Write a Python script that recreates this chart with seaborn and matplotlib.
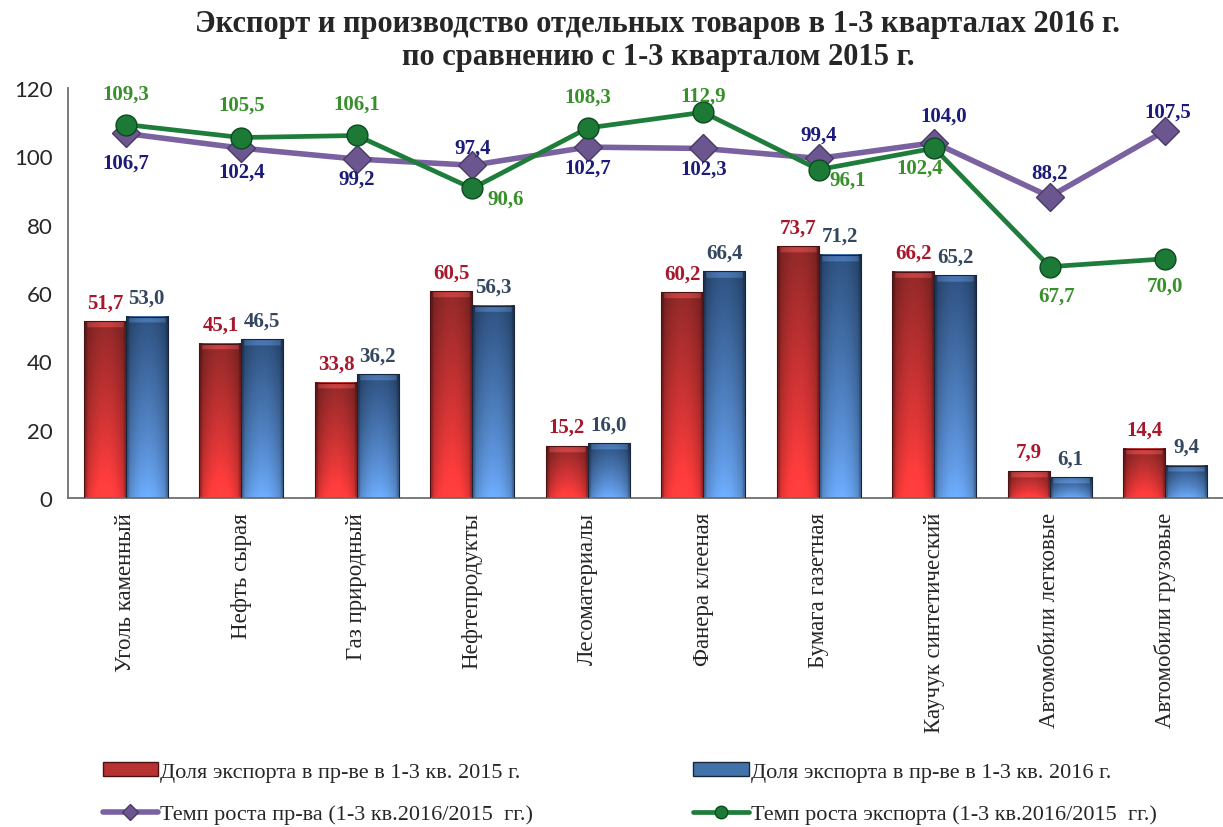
import numpy as np
import pandas as pd
import matplotlib
matplotlib.use("Agg")
import matplotlib.pyplot as plt
import seaborn as sns
from matplotlib.patches import Patch
from matplotlib.lines import Line2D

categories = ["Уголь каменный", "Нефть сырая", "Газ природный", "Нефтепродукты",
              "Лесоматериалы", "Фанера клееная", "Бумага газетная",
              "Каучук синтетический", "Автомобили легковые", "Автомобили грузовые"]
share_2015 = [51.7, 45.1, 33.8, 60.5, 15.2, 60.2, 73.7, 66.2, 7.9, 14.4]
share_2016 = [53.0, 46.5, 36.2, 56.3, 16.0, 66.4, 71.2, 65.2, 6.1, 9.4]
prod_growth = [106.7, 102.4, 99.2, 97.4, 102.7, 102.3, 99.4, 104.0, 88.2, 107.5]
export_growth = [109.3, 105.5, 106.1, 90.6, 108.3, 112.9, 96.1, 102.4, 67.7, 70.0]

series_names = ["Доля экспорта в пр-ве в 1-3 кв. 2015 г.",
                "Доля экспорта в пр-ве в 1-3 кв. 2016 г.",
                "Темп роста пр-ва (1-3 кв.2016/2015  гг.)",
                "Темп роста экспорта (1-3 кв.2016/2015  гг.)"]
title_text = "Экспорт и производство отдельных товаров в 1-3 кварталах 2016 г.\nпо сравнению с 1-3 кварталом 2015 г."

# label offsets (pixels) for line labels
prod_offsets = [(0, -29), (0, -23), (0, -20), (0, 18), (0, -20), (0, -20),
                (0, 24), (9, 27), (0, 24), (2, 19)]
exp_offsets = [(0, 31), (0, 33), (0, 32), (33, -10), (0, 31), (0, 17),
               (29, -10), (-15, -19), (7, -29), (0, -27)]

sns.set_style("white")
plt.rcParams["font.family"] = ["Liberation Serif", "DejaVu Serif"]

fig = plt.figure(figsize=(12.23, 8.28), dpi=100)
ax = fig.add_axes([68 / 1223, 329 / 828, 1155 / 1223, 410 / 828])

n = len(categories)
df = pd.DataFrame({
    "cat": categories * 2,
    "val": share_2015 + share_2016,
    "ser": [series_names[0]] * n + [series_names[1]] * n,
})
sns.barplot(data=df, x="cat", y="val", hue="ser", hue_order=series_names[:2],
            order=categories, palette=["#C03535", "#3F6EA8"], width=0.73, gap=0,
            legend=False, ax=ax, saturation=1)

grad = {
    "#C03535": ((0.50, 0.14, 0.14), (0.95, 0.22, 0.22), "#4A1212"),
    "#3F6EA8": ((0.16, 0.28, 0.44), (0.38, 0.60, 0.88), "#17263A"),
}

def bar_image(top, bottom, w_frac_bevel, h_data, bevel_data):
    rows, cols = 200, 40
    yy = np.linspace(0, 1, rows)[:, None]  # 0 bottom, 1 top
    xx = np.linspace(0, 1, cols)[None, :]
    top = np.array(top); bottom = np.array(bottom)
    t = yy ** 0.8
    base = bottom[None, None, :] * (1 - t[..., None]) + top[None, None, :] * t[..., None]
    shade = 0.78 + 0.38 * np.sin(np.pi * xx) ** 0.7
    img = base * shade[..., None]
    ypos = yy * h_data
    top_band = (h_data - ypos) < bevel_data
    side = (xx < w_frac_bevel) | (xx > 1 - w_frac_bevel)
    img = np.where(top_band[..., None] & ~side[..., None],
                   np.clip(img * 1.25 + 0.05, 0, 1), img)
    img = np.where(side[..., None], img * 0.85, img)
    return np.clip(img, 0, 1)

bar_patches = list(ax.patches)
for p, val_color in zip(bar_patches, ["#C03535"] * n + ["#3F6EA8"] * n):
    x, y = p.get_x(), p.get_y()
    w, h = p.get_width(), p.get_height()
    if h <= 0:
        continue
    top_c, bot_c, edge = grad[val_color]
    img = bar_image(top_c, bot_c, 0.07, h, 1.8)
    ax.imshow(img, extent=[x, x + w, y, y + h], origin="lower",
              aspect="auto", zorder=2, interpolation="bilinear")
    p.set_facecolor("none")
    p.set_edgecolor(edge)
    p.set_linewidth(0.8)
    p.set_zorder(3)

for i in range(n):
    ax.annotate(f"{share_2015[i]:.1f}".replace(".", ","), xy=(i - 0.18, share_2015[i]),
                xytext=(0, 9), textcoords="offset pixels", ha="center", va="bottom",
                fontsize=15, fontweight="bold", color="#A8172B", zorder=6)
    ax.annotate(f"{share_2016[i]:.1f}".replace(".", ","), xy=(i + 0.18, share_2016[i]),
                xytext=(0, 9), textcoords="offset pixels", ha="center", va="bottom",
                fontsize=15, fontweight="bold", color="#34475F", zorder=6)

xpos = np.arange(n)
sns.lineplot(x=xpos, y=prod_growth, ax=ax, color="#7A62A0", linewidth=4,
             marker="D", markersize=14, markerfacecolor="#6C5690",
             markeredgecolor="#4A3A66", markeredgewidth=1, zorder=4)
sns.lineplot(x=xpos, y=export_growth, ax=ax, color="#1E7D3A", linewidth=3.4,
             marker="o", markersize=15, markerfacecolor="#1C7A36",
             markeredgecolor="#0B4A1E", markeredgewidth=1, zorder=5)

for i in range(n):
    ax.annotate(f"{prod_growth[i]:.1f}".replace(".", ","), xy=(i, prod_growth[i]),
                xytext=prod_offsets[i], textcoords="offset pixels", ha="center",
                va="center", fontsize=15, fontweight="bold", color="#1C1C78", zorder=7)
    ax.annotate(f"{export_growth[i]:.1f}".replace(".", ","), xy=(i, export_growth[i]),
                xytext=exp_offsets[i], textcoords="offset pixels", ha="center",
                va="center", fontsize=15, fontweight="bold", color="#38902A", zorder=7)

ax.set_xlim(-0.5, n - 0.5)
ax.set_ylim(0, 120)
ax.set_yticks(np.arange(0, 121, 20))
ax.set_xticks(xpos)
ax.set_xticklabels(categories, rotation=90, fontsize=16.5, va="top", ha="center")
ax.set_xticks(np.arange(-0.5, n, 1.0), minor=True)
ax.tick_params(axis="x", which="major", length=0, pad=10)
ax.tick_params(axis="x", which="minor", length=8, width=1.2, color="#606060", direction="out")
ax.tick_params(axis="y", length=16, width=1.2, color="#606060", direction="inout", pad=3)
for lab in ax.get_yticklabels():
    lab.set_fontfamily(["Lato", "DejaVu Sans"])
    lab.set_fontsize(16)
ax.set_xlabel("")
ax.set_ylabel("")
for s in ["top", "right"]:
    ax.spines[s].set_visible(False)
for s in ["left", "bottom"]:
    ax.spines[s].set_color("#707070")
    ax.spines[s].set_linewidth(1.3)

fig.text(0.538, 1 - 41 / 828, title_text, ha="center", va="center", fontsize=22,
         fontweight="bold", linespacing=1.2)

handles = [
    Patch(facecolor="#B83232", edgecolor="#4A1212"),
    Line2D([], [], color="#7A62A0", lw=4, marker="D", markersize=8,
           markerfacecolor="#6C5690", markeredgecolor="#4A3A66"),
    Patch(facecolor="#4272AA", edgecolor="#17263A"),
    Line2D([], [], color="#1E7D3A", lw=3.4, marker="o", markersize=9,
           markerfacecolor="#1C7A36", markeredgecolor="#0B4A1E"),
]
labels = [series_names[0], series_names[2], series_names[1], series_names[3]]
fig.legend(handles, labels, loc="center", bbox_to_anchor=(0.515, 0.041), ncol=2,
           frameon=False, fontsize=16, handlelength=2.5, handleheight=0.6,
           handletextpad=0.1, columnspacing=7.2, labelspacing=1.0)

fig.savefig("out.png", dpi=100)
